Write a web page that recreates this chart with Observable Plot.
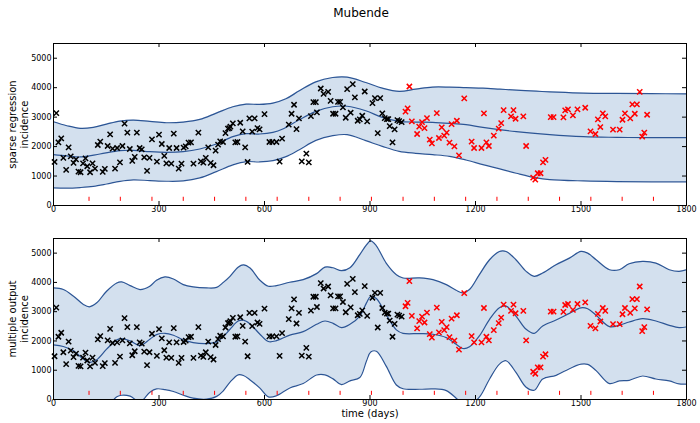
<!DOCTYPE html>
<html>
<head>
<meta charset="utf-8">
<script src="https://cdn.jsdelivr.net/npm/d3@7"></script>
<script src="https://cdn.jsdelivr.net/npm/@observablehq/plot@0.6"></script>
<style>
  body { margin: 0; background: #fff; font-family: "DejaVu Sans", sans-serif; }
  #wrap { position: relative; width: 700px; height: 423px; overflow: hidden; background: #fff; }
  #title { position: absolute; left: 261px; top: 0; width: 200px; text-align: center; font-size: 12px; line-height: 26px; color: #000; }
  #p1 { position: absolute; left: 0; top: 24px; }
  #p2 { position: absolute; left: 0; top: 222px; }
</style>
</head>
<body>
<div id="wrap">
  <div id="title">Mubende</div>
  <div id="p1"></div>
  <div id="p2"></div>
</div>
<script>
// ---------------- data ----------------
const xTicks = [0, 300, 600, 900, 1200, 1500, 1800];
const yTicks = [0, 1000, 2000, 3000, 4000, 5000];
const redTickDays = [101, 190, 280, 369, 458, 547, 636, 726, 815, 904, 994, 1083, 1172, 1261, 1350, 1439, 1528, 1617, 1706];

// observed incidence (training, black)
const blackDays = [3, 8, 14, 22, 28, 36, 43, 49, 57, 64, 71, 77, 84, 91, 96, 104, 111, 118, 126, 133, 140, 146, 154, 161, 168, 175, 181, 189, 196, 202, 210, 217, 224, 231, 237, 245, 251, 258, 266, 273, 280, 294, 300, 308, 315, 321, 329, 335, 342, 350, 356, 364, 370, 376, 384, 391, 398, 412, 419, 426, 433, 440, 447, 455, 461, 468, 474, 482, 489, 496, 500, 503, 510, 517, 523, 531, 538, 545, 552, 557, 565, 572, 580, 586, 600, 614, 622, 634, 643, 650, 669, 677, 684, 691, 698, 706, 719, 726, 732, 739, 746, 749, 760, 768, 781, 788, 795, 802, 809, 815, 823, 831, 835, 845, 851, 857, 865, 871, 878, 885, 892, 907, 914, 922, 929, 935, 942, 948, 952, 956, 964, 970, 978, 983, 990];
const blackIncidence = [1478, 3138, 2144, 2280, 1614, 1208, 1975, 1670, 1445, 1569, 1151, 1129, 1433, 1603, 1332, 1129, 1433, 1253, 2054, 2167, 1140, 1241, 2020, 2415, 1930, 1253, 1953, 1467, 2020, 2777, 2472, 1919, 1512, 1648, 2472, 1953, 1907, 1637, 1174, 1614, 2246, 1490, 2404, 2088, 1682, 1433, 1953, 1422, 2438, 1953, 1253, 1422, 1964, 2009, 2133, 2144, 1422, 2472, 1501, 1456, 1614, 1975, 1445, 1366, 1862, 2065, 2178, 2156, 2460, 2607, 2630, 2675, 2788, 2144, 2156, 2810, 2517, 1975, 1478, 2957, 2506, 2957, 2630, 2585, 3104, 2156, 2156, 2156, 1490, 2269, 2743, 3115, 3420, 2596, 2957, 1501, 1761, 1467, 3036, 3510, 3510, 3160, 3973, 3792, 3860, 3555, 3115, 3115, 3521, 3521, 3330, 2980, 3950, 3150, 4120, 3668, 2878, 2923, 3047, 3871, 2856, 3476, 3645, 2460, 3645, 3126, 2968, 2934, 2934, 2697, 2144, 2585, 2900, 2867, 2833];

// observed incidence (held out, red)
const redDays = [1001, 1007, 1012, 1019, 1034, 1040, 1048, 1055, 1062, 1070, 1076, 1090, 1096, 1104, 1111, 1118, 1126, 1132, 1140, 1147, 1153, 1168, 1189, 1196, 1217, 1224, 1231, 1238, 1252, 1266, 1273, 1280, 1301, 1308, 1314, 1336, 1344, 1364, 1370, 1377, 1385, 1392, 1399, 1414, 1422, 1450, 1455, 1463, 1477, 1490, 1512, 1527, 1541, 1548, 1555, 1562, 1569, 1591, 1610, 1618, 1625, 1640, 1646, 1653, 1659, 1667, 1674, 1680, 1688];
const redIncidence = [3186, 3300, 4041, 2856, 2427, 2675, 2833, 2630, 2968, 2235, 2111, 3138, 2291, 2652, 2370, 2472, 2133, 2765, 2009, 2878, 1704, 3634, 2167, 1953, 1953, 3126, 2144, 2020, 2370, 2607, 2799, 3239, 3025, 3239, 2946, 3025, 2020, 948, 880, 1095, 1095, 1467, 1546, 3002, 3002, 2991, 3228, 3262, 3059, 3262, 3318, 2517, 2427, 2923, 2664, 3126, 3025, 2573, 2573, 2912, 3126, 2957, 3431, 3115, 3431, 3860, 2336, 2472, 3081];

// sparse regression model
const sparseMeanDays = [0, 38, 76, 132, 189, 227, 274, 321, 369, 416, 463, 510, 548, 586, 624, 652, 699, 746, 794, 835, 888, 935, 983, 1030, 1078, 1126, 1173, 1221, 1316, 1411, 1507, 1602, 1697, 1800];
const sparseMean = [1727, 1682, 1648, 1749, 1862, 1873, 1828, 1806, 1828, 1919, 2088, 2336, 2438, 2427, 2483, 2596, 2912, 3194, 3352, 3370, 3217, 2991, 2856, 2833, 2822, 2788, 2743, 2652, 2506, 2404, 2336, 2314, 2302, 2302];
const sparseBandDays = [0, 38, 76, 113, 151, 189, 227, 274, 321, 369, 416, 463, 510, 548, 586, 624, 661, 699, 746, 794, 835, 888, 935, 983, 1030, 1078, 1126, 1173, 1221, 1269, 1316, 1373, 1411, 1507, 1602, 1700, 1800];
const sparseUpper = [2844, 2709, 2619, 2652, 2765, 2867, 2901, 2856, 2810, 2833, 2923, 3138, 3352, 3442, 3431, 3476, 3623, 3894, 4199, 4345, 4357, 4176, 3984, 3875, 3950, 4020, 4018, 4000, 3984, 3950, 3916, 3880, 3860, 3815, 3804, 3796, 3792];
const sparseLower = [598, 587, 610, 650, 730, 820, 869, 846, 824, 835, 937, 1151, 1377, 1490, 1478, 1524, 1659, 1896, 2212, 2370, 2404, 2201, 2009, 1840, 1772, 1727, 1670, 1546, 1388, 1242, 1095, 937, 880, 835, 813, 805, 801];

// multiple output model
const multiDays = [0, 28, 57, 85, 102, 123, 151, 180, 194, 218, 246, 274, 293, 317, 341, 369, 397, 435, 464, 483, 502, 525, 540, 559, 587, 611, 634, 672, 710, 748, 772, 795, 819, 843, 871, 890, 902, 918, 946, 975, 994, 1041, 1079, 1117, 1145, 1164, 1183, 1211, 1240, 1268, 1287, 1315, 1344, 1367, 1391, 1429, 1467, 1500, 1519, 1543, 1581, 1609, 1637, 1675, 1713, 1751, 1779, 1800];
const multiMean = [1867, 1810, 1663, 1380, 1267, 1357, 1719, 2036, 2081, 2002, 1840, 2059, 2217, 2262, 2195, 2036, 1946, 1912, 1968, 2150, 2400, 2680, 2710, 2580, 2230, 1980, 2010, 2200, 2320, 2568, 2681, 2602, 2455, 2568, 2851, 3300, 3520, 3450, 2900, 2380, 2260, 2251, 2229, 2115, 1889, 1742, 1799, 2172, 2738, 3133, 3190, 2851, 2398, 2262, 2511, 2715, 2941, 3133, 3100, 2880, 2489, 2534, 2647, 2760, 2681, 2534, 2455, 2480];
const multiUpper = [3812, 3756, 3529, 3247, 3167, 3303, 3699, 3982, 4016, 3891, 3756, 3869, 4072, 4186, 4118, 3925, 3846, 3812, 3830, 4000, 4208, 4520, 4600, 4491, 4072, 3869, 3891, 4005, 4095, 4300, 4520, 4500, 4400, 4500, 4950, 5283, 5420, 5250, 4661, 4265, 4152, 4152, 4095, 3925, 3733, 3643, 3756, 4265, 4774, 5057, 5057, 4774, 4378, 4208, 4321, 4604, 4830, 5057, 5000, 4774, 4434, 4434, 4638, 4717, 4661, 4434, 4378, 4434];
const multiLower = [-78, -136, -203, -487, -633, -589, -261, 90, 146, 113, -76, 249, 362, 338, 272, 147, 46, 12, 106, 300, 592, 840, 820, 669, 388, 91, 129, 395, 545, 836, 842, 704, 510, 636, 752, 1317, 1620, 1650, 1139, 495, 368, 350, 363, 305, 45, -159, -158, 79, 702, 1209, 1323, 928, 418, 316, 701, 826, 1052, 1209, 1200, 986, 544, 634, 656, 803, 701, 634, 532, 526];

// ---------------- drawing ----------------
const BAND = "#d3e0ee";
const LINE = "#2c5595";
const CURVE = "catmull-rom";
const ML = 53, MR = 14, W = 700;
const FW = W - ML - MR;

const blackRows = blackDays.map((d, i) => ({day: d, v: blackIncidence[i]}));
const redRows = redDays.map((d, i) => ({day: d, v: redIncidence[i]}));

function panel({bandDays, upper, lower, meanDays, mean, ylabel, height, marginTop, marginBottom, xlabel}) {
  const FH = height - marginTop - marginBottom;
  const band = bandDays.map((d, i) => ({day: d, lo: lower[i], hi: upper[i]}));
  const meanRows = meanDays.map((d, i) => ({day: d, v: mean[i]}));
  const marks = [
    Plot.areaY(band, {x: "day", y1: "lo", y2: "hi", fill: BAND, curve: CURVE, clip: true}),
    Plot.lineY(band, {x: "day", y: "hi", stroke: LINE, strokeWidth: 1.2, curve: CURVE, clip: true}),
    Plot.lineY(band, {x: "day", y: "lo", stroke: LINE, strokeWidth: 1.2, curve: CURVE, clip: true}),
    Plot.lineY(meanRows, {x: "day", y: "v", stroke: LINE, strokeWidth: 1.2, curve: CURVE, clip: true}),
    Plot.ruleX(redTickDays, {x: d => d, y1: 140, y2: 280, stroke: "red", strokeWidth: 1}),
    Plot.dot(blackRows, {x: "day", y: "v", symbol: "times", r: 2.5, stroke: "black", strokeWidth: 1.5}),
    Plot.dot(redRows, {x: "day", y: "v", symbol: "times", r: 2.5, stroke: "red", strokeWidth: 1.5}),
    Plot.ruleX(xTicks, {x: d => d, insetTop: FH - 4, stroke: "black"}),
    Plot.ruleX(xTicks, {x: d => d, insetBottom: FH - 4, stroke: "black"}),
    Plot.ruleY(yTicks, {y: d => d, insetRight: FW - 4, stroke: "black"}),
    Plot.ruleY(yTicks, {y: d => d, insetLeft: FW - 4, stroke: "black"}),
    Plot.frame({stroke: "black"}),
    Plot.text([ylabel], {text: d => d, frameAnchor: "left", textAnchor: "middle", lineAnchor: "middle", dx: -35, rotate: -90, fontSize: 10, lineHeight: 1.15, fill: "black"})
  ];
  if (xlabel) marks.push(Plot.text([xlabel], {text: d => d, frameAnchor: "bottom", textAnchor: "middle", dy: 17, fontSize: 10, fill: "black"}));
  return Plot.plot({
    width: W, height, marginTop, marginBottom, marginLeft: ML, marginRight: MR,
    style: {fontFamily: "DejaVu Sans, sans-serif", fontSize: "8px", color: "black", background: "white", overflow: "visible"},
    x: {domain: [0, 1800], ticks: xTicks, tickSize: 0, tickPadding: 1, tickFormat: d => String(d), label: null},
    y: {domain: [0, 5500], ticks: yTicks, tickSize: 0, tickPadding: 2, tickFormat: d => String(d), label: null},
    marks
  });
}

document.getElementById("p1").appendChild(panel({
  bandDays: sparseBandDays, upper: sparseUpper, lower: sparseLower,
  meanDays: sparseMeanDays, mean: sparseMean,
  ylabel: "sparse regression\nincidence", height: 198, marginTop: 19, marginBottom: 17
}));
document.getElementById("p2").appendChild(panel({
  bandDays: multiDays, upper: multiUpper, lower: multiLower,
  meanDays: multiDays, mean: multiMean,
  ylabel: "multiple output\nincidence", height: 201, marginTop: 16, marginBottom: 24, xlabel: "time (days)"
}));
</script>
</body>
</html>
